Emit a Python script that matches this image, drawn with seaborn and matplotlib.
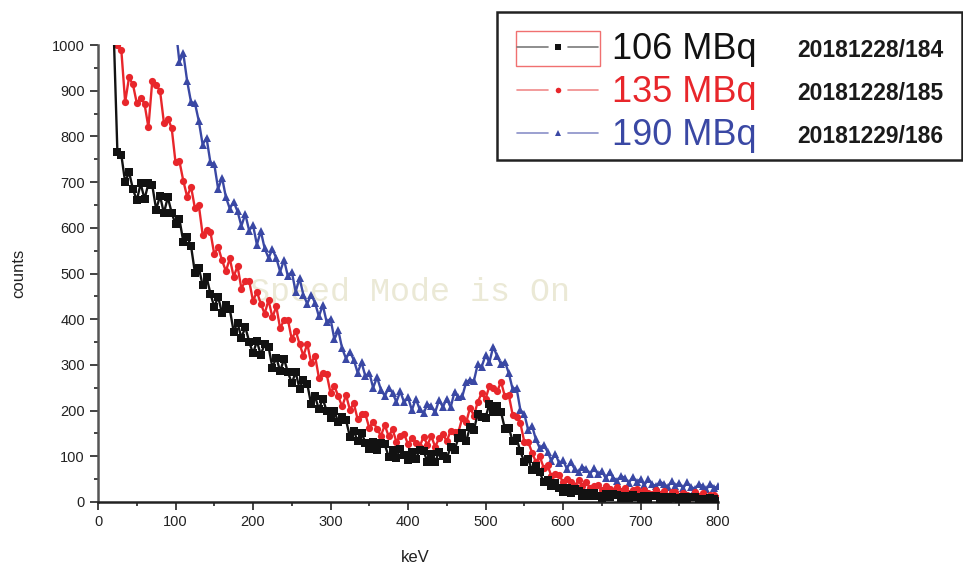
import matplotlib.pyplot as plt
import numpy as np
import seaborn as sns
from matplotlib.lines import Line2D
from matplotlib.patches import Rectangle
from matplotlib.ticker import MultipleLocator

sns.set_style('ticks')
plt.rcParams['font.family'] = ['Liberation Sans', 'DejaVu Sans']

# energy channels (keV), one point every 5 keV, counts
kev_106 = np.arange(20, 801, 5)
counts_106 = [
    1040, 765, 760, 700, 722, 685, 660, 697, 663, 697,
    693, 640, 670, 632, 667, 633, 608, 619, 570, 580,
    560, 502, 513, 474, 493, 456, 427, 449, 413, 432,
    422, 373, 392, 359, 383, 351, 325, 352, 322, 346,
    340, 294, 316, 286, 313, 284, 260, 284, 248, 268,
    258, 214, 231, 203, 226, 199, 183, 199, 174, 187,
    179, 143, 156, 133, 151, 130, 116, 132, 114, 129,
    126, 99, 114, 97, 116, 102, 91, 110, 95, 113,
    112, 88, 104, 88, 109, 100, 95, 121, 114, 140,
    151, 133, 164, 158, 193, 187, 184, 215, 196, 210,
    197, 160, 163, 133, 139, 111, 87, 94, 69, 78,
    65, 44, 48, 34, 41, 30, 21, 31, 20, 29,
    25, 14, 20, 13, 20, 14, 9, 18, 11, 18,
    16, 8, 13, 8, 15, 10, 6, 13, 7, 13,
    13, 5, 10, 5, 12, 8, 4, 10, 5, 11,
    10, 4, 7, 4, 9, 6, 3,
]

kev_135 = np.arange(25, 801, 5)
counts_135 = [
    1000, 990, 875, 929, 914, 873, 885, 871, 820, 922,
    912, 900, 830, 839, 819, 743, 746, 703, 668, 690,
    643, 650, 585, 596, 591, 542, 558, 529, 505, 533,
    493, 516, 467, 484, 484, 440, 460, 434, 412, 442,
    404, 428, 380, 398, 399, 356, 375, 346, 320, 346,
    304, 320, 272, 283, 280, 239, 254, 231, 209, 234,
    202, 216, 181, 192, 192, 162, 176, 160, 145, 168,
    144, 159, 132, 145, 149, 126, 141, 130, 121, 143,
    125, 144, 121, 139, 149, 133, 156, 153, 153, 184,
    174, 206, 189, 219, 238, 225, 254, 250, 242, 263,
    231, 234, 191, 187, 172, 132, 132, 108, 88, 100,
    75, 80, 57, 61, 60, 43, 51, 43, 35, 48,
    35, 43, 30, 36, 38, 27, 34, 28, 23, 33,
    24, 31, 20, 27, 28, 19, 26, 20, 17, 26,
    17, 25, 14, 21, 22, 13, 20, 15, 11, 21,
    13, 19, 10, 15, 16, 9,
]

kev_190 = np.arange(100, 801, 5)
counts_190 = [
    1040, 963, 982, 921, 875, 873, 834, 782, 797, 743,
    739, 685, 710, 667, 642, 657, 636, 604, 630, 594,
    606, 563, 593, 555, 534, 553, 534, 504, 530, 494,
    504, 460, 490, 453, 434, 454, 436, 406, 431, 394,
    401, 356, 376, 336, 314, 329, 311, 283, 306, 275,
    283, 250, 273, 246, 232, 250, 239, 219, 242, 218,
    229, 201, 226, 203, 194, 214, 209, 196, 223, 208,
    226, 207, 241, 229, 231, 262, 268, 265, 302, 296,
    321, 306, 340, 319, 302, 307, 282, 247, 250, 201,
    193, 158, 167, 137, 118, 125, 110, 90, 106, 85,
    91, 73, 88, 72, 66, 77, 72, 61, 75, 61,
    68, 52, 66, 53, 47, 57, 52, 42, 55, 44,
    50, 37, 50, 39, 35, 44, 40, 33, 45, 36,
    42, 30, 43, 33, 29, 39, 35, 28, 40, 31,
    34,
]

labels = ['106 MBq', '135 MBq', '190 MBq']
run_ids = ['20181228/184', '20181228/185', '20181229/186']
colors = ['#121212', '#e8262b', '#3a48a4']
line_colors = ['#7a7a7a', '#f08a8a', '#8a90c8']
markers = ['s', 'o', '^']

fig = plt.figure(figsize=(9.63, 5.70), dpi=100)
ax = fig.add_axes([0.1018, 0.1193, 0.6438, 0.8017])

series = [(kev_106, counts_106), (kev_135, counts_135), (kev_190, counts_190)]
# blue underneath, black on top
for i in [2, 1, 0]:
    x, y = series[i]
    sns.lineplot(x=x, y=y, ax=ax, color=colors[i], marker=markers[i],
                 markersize=5.2, markeredgewidth=0, linewidth=1.7, zorder=3 - i * 0.1)

ax.set_xlim(0, 800)
ax.set_ylim(0, 1000)
ax.xaxis.set_major_locator(MultipleLocator(100))
ax.xaxis.set_minor_locator(MultipleLocator(50))
ax.yaxis.set_major_locator(MultipleLocator(100))
ax.yaxis.set_minor_locator(MultipleLocator(50))
ax.tick_params(which='major', direction='out', length=6, width=1.2, labelsize=10.5, colors='#222222')
ax.tick_params(which='minor', direction='out', length=3, width=1.2, colors='#222222')
sns.despine(ax=ax)
ax.spines['left'].set_linewidth(1.8)
ax.spines['left'].set_color('#555555')
ax.spines['bottom'].set_linewidth(1.8)
ax.spines['bottom'].set_color('#222222')

ax.set_xlabel('keV', fontsize=12, color='#222222')
ax.set_ylabel('counts', fontsize=12, color='#222222')
ax.xaxis.set_label_coords(0.511, -0.105)
ax.yaxis.set_label_coords(-0.115, 0.5)

# Origin watermark
ax.text(0.2596, 0.4877, 'Speed Mode is On', transform=fig.transFigure,
        family='Liberation Mono', fontsize=24, color='#ebe9d6', va='center', ha='left', zorder=0.5)

# legend box drawn by hand (Origin style)
fig.add_artist(Rectangle((0.516, 0.719), 0.4825, 0.2596, transform=fig.transFigure,
                         fill=False, edgecolor='#222222', linewidth=1.8))
fig.add_artist(Rectangle((0.536, 0.884), 0.0872, 0.0614, transform=fig.transFigure,
                         fill=False, edgecolor='#f07070', linewidth=1.0))
rows_y = [0.9175, 0.842, 0.7667]
for i, yy in enumerate(rows_y):
    fig.add_artist(Line2D([0.537, 0.569], [yy, yy], transform=fig.transFigure,
                          color=line_colors[i], linewidth=1.2))
    fig.add_artist(Line2D([0.590, 0.621], [yy, yy], transform=fig.transFigure,
                          color=line_colors[i], linewidth=1.2))
    fig.add_artist(Line2D([0.5794], [yy], transform=fig.transFigure, color=colors[i],
                          marker=markers[i], markersize=4, markeredgewidth=0))
    fig.text(0.6355, yy - 0.004, labels[i], fontsize=26, color=colors[i], va='center', ha='left')
    fig.text(0.9034, yy - 0.006, run_ids[i], fontsize=16.5, fontweight='bold', color='#1a1a1a',
             va='center', ha='center')

fig.savefig('out.png', dpi=100)
